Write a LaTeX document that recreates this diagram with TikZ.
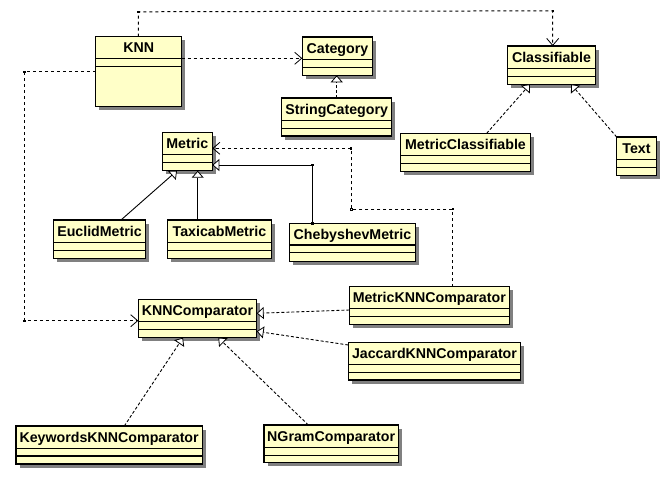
\documentclass[tikz,border=0pt]{standalone}
\usepackage{fontspec}
\setmainfont{Liberation Sans}
\usetikzlibrary{arrows.meta,shadows,calc}
\definecolor{classfill}{RGB}{255,255,200}
\definecolor{shadowgray}{RGB}{128,128,128}
\tikzset{
  classbox/.style={draw=black, line width=1.4pt, fill=classfill, inner sep=0pt, outer sep=0pt,
    drop shadow={shadow xshift=3.5pt, shadow yshift=-3.5pt, fill=shadowgray, opacity=1}},
  sepline/.style={line width=1.2pt},
  classname/.style={font=\fontsize{14.2}{16}\selectfont\bfseries, inner sep=0pt, text height=12pt, text depth=2pt},
  dep/.style={line width=1pt, dash pattern=on 3pt off 3pt,
    -{Straight Barb[length=7pt,width=12pt,line width=0.8pt]}},
  realiz/.style={line width=0.9pt, dash pattern=on 3pt off 2pt,
    -{Triangle[length=7pt,width=12pt,fill=white,line width=0.8pt]}},
  gener/.style={line width=0.9pt,
    -{Triangle[length=7pt,width=12pt,fill=white,line width=0.8pt]}},
}
\newcommand\umlclass[7]{%
  \node[classbox, minimum width={(#4-#2)*1pt}, minimum height={(#5-#3)*1pt}] (#1) at ({(#2+#4)/2},{(#3+#5)/2}) {};
  \draw[sepline] (#2,#6) -- (#4,#6) (#2,#6+7.8) -- (#4,#6+7.8);
  \node[classname] (#1-name) at ({(#2+#4)/2},{(#3+#6)/2}) {#7};
}
\begin{document}
\begin{tikzpicture}[x=1pt,y=-1pt]
\useasboundingbox (0,0) rectangle (672,480);
\fill[white] (0,0) rectangle (672,480);

% classes
\umlclass{knn}{95.7}{36.7}{181.7}{106.7}{58.3}{KNN}
\umlclass{cat}{302.3}{37}{372.7}{75.3}{59.3}{Category}
\umlclass{scat}{281.7}{98}{391.7}{136}{120.5}{StringCategory}
\umlclass{cls}{507.3}{46}{595.7}{84.3}{68.3}{Classifiable}
\umlclass{mcls}{400.7}{133.3}{530.3}{171.3}{155.6}{MetricClassifiable}
\umlclass{text}{616.7}{137}{656.3}{175.3}{159.3}{Text}
\umlclass{metric}{162.3}{132.3}{212.3}{170.7}{154.3}{Metric}
\umlclass{euclid}{53.3}{220}{145.7}{258.3}{242.3}{EuclidMetric}
\umlclass{taxi}{167.7}{220}{271.3}{258.3}{242.3}{TaxicabMetric}
\umlclass{cheb}{289.3}{223.3}{415.7}{261.7}{245}{ChebyshevMetric}
\umlclass{kc}{138.3}{299.3}{256.7}{337.7}{321.5}{KNNComparator}
\umlclass{mkc}{349.3}{286.7}{509.3}{324.3}{308.5}{MetricKNNComparator}
\umlclass{jkc}{348.3}{342.3}{520.7}{380}{364.8}{JaccardKNNComparator}
\umlclass{kwkc}{16}{426}{202.3}{464}{448.2}{KeywordsKNNComparator}
\umlclass{ngc}{264}{425}{398.3}{462.7}{447.3}{NGramComparator}

% bend points
\coordinate (b1) at (138.3,11.8);
\coordinate (b2) at (552.7,10.8);
\coordinate (b3) at (24.3,71.7);
\coordinate (b4) at (24.3,320.7);
\coordinate (b5) at (312.3,165);
\coordinate (b6) at (452.7,209);
\coordinate (b7) at (351,209);
\coordinate (b8) at (351,148.3);

% dependencies
\coordinate (k0) at ([xshift=42.6pt]knn.north west);
\draw[dep] (k0) -- (b1) -- (b2) -- (b2 |- cls.north);
\coordinate (k1) at ([yshift=-21.6pt]knn.north east);
\draw[dep] (k1) -- (k1 -| cat.west);
\coordinate (k2) at ([yshift=-35pt]knn.north west);
\draw[dep] (k2) -- (b3) -- (b4) -- (b4 -| kc.west);
\coordinate (m0) at ([xshift=103.4pt]mkc.north west);
\draw[dep] (m0) -- (b6) -- (b7) -- (b8) -- (b8 -| metric.east);

% realizations
\draw[realiz] (scat.north) -- (scat.north |- cat.south);
\draw[realiz] ([xshift=86pt]mcls.north west) -- ([xshift=22.7pt]cls.south west);
\draw[realiz] (text.north west) -- ([xshift=63.7pt]cls.south west);
\draw[realiz] ([yshift=-23.3pt]mkc.north west) -- ([yshift=-14pt]kc.north east);
\draw[realiz] ([yshift=-2.7pt]jkc.north west) -- ([yshift=-32pt]kc.north east);
\draw[realiz] ([xshift=108.3pt]kwkc.north west) -- ([xshift=44.7pt]kc.south west);
\draw[realiz] ([xshift=44.3pt]ngc.north west) -- ([xshift=80pt]kc.south west);

% generalizations
\draw[gener] ([xshift=67.7pt]euclid.north west) -- ([xshift=14.7pt]metric.south west);
\coordinate (t0) at ([xshift=30pt]taxi.north west);
\draw[gener] (t0) -- (t0 |- metric.south);
\coordinate (c0) at ([xshift=23pt]cheb.north west);
\draw[gener] (c0) -- (b5) -- (b5 -| metric.east);

% bend markers
\foreach \p in {b1,b2,b3,b4,b5,b6,b8,c0}
  \fill (\p) ++(-1.2,-1.2) rectangle ++(2.4,2.4);
\draw[line width=0.5pt] (b7) ++(-1.2,-1.2) rectangle ++(2.4,2.4);
\end{tikzpicture}
\end{document}
